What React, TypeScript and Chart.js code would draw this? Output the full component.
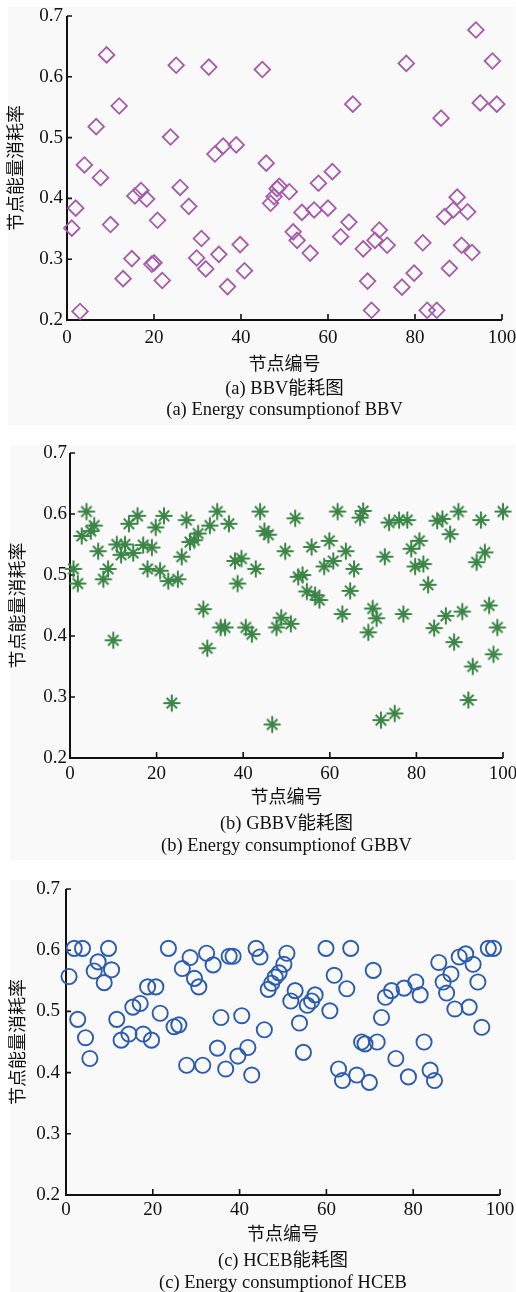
import React, { useEffect, useRef } from 'react';
import { Chart, registerables } from 'chart.js';

Chart.register(...registerables);

// ---------- shared axis data ----------
const xTickValues = [0, 20, 40, 60, 80, 100];
const yTickValues = [0.2, 0.3, 0.4, 0.5, 0.6, 0.7];
const xAxisTitle = '节点编号';
const yAxisTitle = '节点能量消耗率';

// ---------- (a) BBV ----------
const bbvNodes = [
  1.1, 2, 3, 4, 6.7, 7.7, 9.1, 10, 12, 12.9, 14.9, 15.6, 17, 18.3, 19.5, 20, 20.8, 21.9, 23.8, 25.1,
  26, 28, 29.8, 30.9, 31.9, 32.6, 34, 34.9, 35.9, 36.9, 38.9, 39.8, 40.8, 44.9, 45.8, 46.8, 47.6, 48.3, 48.8, 51.1,
  52, 52.9, 54, 55.9, 56.8, 57.8, 60, 61, 62.9, 64.8, 65.7, 68.1, 69.1, 70, 70.8, 71.8, 73.6, 77, 78, 79.8,
  81.8, 82.8, 85, 86, 86.8, 87.9, 88.8, 89.7, 90.7, 92.1, 93.1, 94, 95, 97.8, 98.8,
];
const bbvValues = [
  0.351, 0.384, 0.214, 0.455, 0.518, 0.434, 0.636, 0.357, 0.552, 0.268, 0.301, 0.404, 0.413, 0.399, 0.292, 0.294, 0.364, 0.265, 0.501, 0.619,
  0.418, 0.387, 0.302, 0.334, 0.284, 0.616, 0.473, 0.308, 0.486, 0.255, 0.488, 0.324, 0.281, 0.612, 0.458, 0.392, 0.403, 0.416, 0.420, 0.411,
  0.345, 0.331, 0.377, 0.310, 0.381, 0.425, 0.384, 0.444, 0.337, 0.361, 0.555, 0.317, 0.264, 0.216, 0.331, 0.348, 0.323, 0.254, 0.622, 0.277,
  0.327, 0.216, 0.216, 0.532, 0.370, 0.285, 0.381, 0.402, 0.323, 0.378, 0.311, 0.677, 0.557, 0.626, 0.555,
];

// ---------- (b) GBBV ----------
const gbbvNodes = [
  0.8, 1.8, 2.7, 3.8, 4.8, 5.6, 6.5, 7.7, 8.8, 10, 10.8, 11.8, 12.7, 13.6, 14.6, 15.6, 16.9, 17.9, 18.9, 19.8,
  20.8, 21.7, 22.7, 23.5, 24.9, 25.8, 26.9, 27.7, 28.7, 29.6, 30.8, 31.7, 32.3, 34, 34.8, 35.8, 36.7, 38.1, 38.7, 39.6,
  40.6, 42, 42.9, 43.9, 44.9, 45.8, 46.7, 47.7, 48.8, 49.7, 51, 52, 52.7, 53.7, 54.7, 55.8, 56.6, 57.6, 58.7, 59.9,
  60.8, 61.8, 62.9, 63.7, 64.7, 65.6, 67, 67.7, 68.9, 69.9, 70.8, 71.8, 72.7, 73.7, 75, 76, 77, 77.9, 78.8, 79.7,
  80.7, 81.6, 82.7, 84.1, 84.8, 86, 86.8, 87.8, 88.7, 89.7, 90.6, 92, 93, 93.9, 94.9, 95.8, 96.8, 97.8, 98.7, 100,
];
const gbbvValues = [
  0.510, 0.486, 0.564, 0.604, 0.572, 0.581, 0.539, 0.493, 0.510, 0.393, 0.550, 0.533, 0.550, 0.584, 0.536, 0.597, 0.549, 0.510, 0.545, 0.578,
  0.507, 0.597, 0.490, 0.290, 0.493, 0.530, 0.590, 0.554, 0.557, 0.568, 0.444, 0.380, 0.581, 0.604, 0.414, 0.414, 0.584, 0.523, 0.486, 0.527,
  0.414, 0.403, 0.510, 0.604, 0.572, 0.566, 0.255, 0.414, 0.430, 0.539, 0.420, 0.593, 0.497, 0.500, 0.473, 0.546, 0.467, 0.459, 0.514, 0.556,
  0.523, 0.604, 0.436, 0.539, 0.474, 0.510, 0.594, 0.605, 0.406, 0.445, 0.429, 0.262, 0.530, 0.586, 0.273, 0.590, 0.436, 0.590, 0.543, 0.514,
  0.556, 0.518, 0.484, 0.413, 0.589, 0.592, 0.433, 0.567, 0.390, 0.604, 0.440, 0.295, 0.350, 0.521, 0.590, 0.537, 0.450, 0.370, 0.414, 0.604,
];

// ---------- (c) HCEB ----------
const hcebNodes = [
  0.7, 1.9, 2.7, 3.8, 4.5, 5.5, 6.5, 7.4, 8.8, 9.8, 10.5, 11.7, 12.7, 14.5, 15.4, 17.1, 17.8, 18.8, 19.7, 20.7,
  21.7, 23.6, 24.9, 26, 26.8, 27.8, 28.6, 29.6, 30.6, 31.5, 32.4, 33.9, 34.9, 35.7, 36.8, 37.6, 38.5, 39.6, 40.5, 41.9,
  42.8, 43.8, 44.7, 45.7, 46.6, 47.4, 48.2, 49.1, 50.2, 50.9, 51.8, 52.8, 53.8, 54.7, 55.6, 56.6, 57.4, 59.9, 60.8, 61.8,
  62.8, 63.7, 64.7, 65.6, 67, 68.1, 68.9, 69.9, 70.8, 71.7, 72.7, 73.6, 75, 76, 77.9, 78.9, 80.6, 81.6, 82.5, 83.9,
  84.9, 85.9, 86.9, 87.7, 88.7, 89.6, 90.6, 92.1, 92.9, 93.8, 94.9, 95.8, 97.3, 98.5,
];
const hcebValues = [
  0.557, 0.603, 0.487, 0.603, 0.457, 0.423, 0.566, 0.581, 0.547, 0.603, 0.568, 0.487, 0.453, 0.463, 0.507, 0.513, 0.463, 0.540, 0.453, 0.540,
  0.497, 0.603, 0.475, 0.478, 0.570, 0.412, 0.588, 0.554, 0.540, 0.412, 0.595, 0.576, 0.440, 0.490, 0.406, 0.590, 0.590, 0.427, 0.493, 0.441,
  0.396, 0.603, 0.589, 0.470, 0.536, 0.546, 0.556, 0.563, 0.577, 0.595, 0.517, 0.534, 0.481, 0.433, 0.510, 0.517, 0.527, 0.603, 0.501, 0.559,
  0.406, 0.387, 0.537, 0.603, 0.396, 0.450, 0.447, 0.384, 0.567, 0.450, 0.490, 0.523, 0.534, 0.423, 0.538, 0.393, 0.548, 0.527, 0.450, 0.404,
  0.387, 0.580, 0.548, 0.530, 0.561, 0.504, 0.589, 0.594, 0.507, 0.577, 0.548, 0.474, 0.603, 0.603,
];

const SERIF = "'Liberation Serif', 'Times New Roman', 'Noto Sans CJK SC', serif";

function makeAsterisk(color: string, lw: number): HTMLCanvasElement {
  const c = document.createElement('canvas');
  const s = 22;
  c.width = s;
  c.height = s;
  const g = c.getContext('2d')!;
  g.strokeStyle = color;
  g.lineWidth = lw;
  const m = s / 2;
  g.beginPath();
  g.moveTo(m - 8.5, m);
  g.lineTo(m + 8.5, m);
  g.moveTo(m, m - 8.5);
  g.lineTo(m, m + 8.5);
  const d = 5.2;
  g.moveTo(m - d, m - d);
  g.lineTo(m + d, m + d);
  g.moveTo(m - d, m + d);
  g.lineTo(m + d, m - d);
  g.stroke();
  return c;
}

const inwardAxes = {
  id: 'inwardAxes',
  beforeDatasetsDraw(chart: any) {
    const { ctx, chartArea, scales } = chart;
    const { left, right, top, bottom } = chartArea;
    const x = scales.x;
    const y = scales.y;
    ctx.save();
    ctx.strokeStyle = '#111';
    ctx.lineWidth = 2;
    ctx.beginPath();
    ctx.moveTo(left, top);
    ctx.lineTo(left, bottom);
    ctx.lineTo(right, bottom);
    ctx.stroke();
    ctx.lineWidth = 1.6;
    ctx.beginPath();
    x.ticks.forEach((t: any) => {
      const px = x.getPixelForValue(t.value);
      ctx.moveTo(px, bottom);
      ctx.lineTo(px, bottom - 6);
    });
    y.ticks.forEach((t: any) => {
      const py = y.getPixelForValue(t.value);
      ctx.moveTo(left, py);
      ctx.lineTo(left + 5, py);
    });
    ctx.stroke();
    ctx.restore();
  },
};

type PanelProps = {
  nodes: number[];
  values: number[];
  marker: 'diamond' | 'asterisk' | 'circle';
  color: string;
  top: number;
  height: number;
  yAxisWidth: number;
  padRight: number;
  xTitlePadBottom: number;
  yTitlePadTop: number;
  yTickPad: number;
  xTickPad: number;
};

function ScatterPanel(p: PanelProps) {
  const ref = useRef<HTMLCanvasElement | null>(null);
  useEffect(() => {
    if (!ref.current) return;
    let pointStyle: any = 'circle';
    let radius = 7.6;
    let bw = 1.9;
    if (p.marker === 'diamond') {
      pointStyle = 'rectRot';
      radius = 7.8;
      bw = 1.8;
    } else if (p.marker === 'asterisk') {
      pointStyle = makeAsterisk(p.color, 2);
      radius = 9;
    }
    const chart = new Chart(ref.current, {
      type: 'scatter',
      data: {
        datasets: [
          {
            data: p.nodes.map((n, i) => ({ x: n, y: p.values[i] })),
            pointStyle,
            pointRadius: radius,
            borderColor: p.color,
            borderWidth: bw,
            backgroundColor: 'rgba(0,0,0,0)',
            clip: false as any,
          },
        ],
      },
      options: {
        animation: false,
        responsive: false,
        events: [],
        layout: { padding: { top: 16, right: p.padRight, left: 0, bottom: 0 } },
        plugins: { legend: { display: false }, tooltip: { enabled: false }, title: { display: false } },
        scales: {
          x: {
            type: 'linear',
            min: 0,
            max: 100,
            afterBuildTicks: (s: any) => {
              s.ticks = xTickValues.map((v) => ({ value: v }));
            },
            afterFit: (s: any) => {
              s.height = 60;
              s.paddingLeft = 0;
              s.paddingRight = 0;
            },
            ticks: {
              color: '#111',
              font: { family: SERIF, size: 19 },
              padding: p.xTickPad,
              maxRotation: 0,
              autoSkip: false,
              callback: (v: any) => String(v),
            },
            grid: { display: false, drawTicks: false },
            border: { display: false },
            title: {
              display: true,
              text: xAxisTitle,
              color: '#111',
              font: { family: SERIF, size: 18 },
              padding: { top: 0, bottom: p.xTitlePadBottom },
            },
          },
          y: {
            type: 'linear',
            min: 0.2,
            max: 0.7,
            afterBuildTicks: (s: any) => {
              s.ticks = yTickValues.map((v) => ({ value: v }));
            },
            afterFit: (s: any) => {
              s.width = p.yAxisWidth;
              s.paddingTop = 0;
              s.paddingBottom = 0;
            },
            ticks: {
              color: '#111',
              font: { family: SERIF, size: 19 },
              padding: p.yTickPad,
              autoSkip: false,
              callback: (v: any) => Number(v).toFixed(1),
            },
            grid: { display: false, drawTicks: false },
            border: { display: false },
            title: {
              display: true,
              text: yAxisTitle,
              color: '#111',
              font: { family: SERIF, size: 18 },
              padding: { top: p.yTitlePadTop, bottom: 0 },
            },
          },
        },
      },
      plugins: [inwardAxes],
    });
    return () => chart.destroy();
  }, []);
  return (
    <canvas
      ref={ref}
      width={516}
      height={p.height}
      style={{ position: 'absolute', left: 0, top: p.top, width: 516, height: p.height }}
    />
  );
}

function Caption({ text, centerY, left, width }: { text: string; centerY: number; left: number; width: number }) {
  return (
    <div
      style={{
        position: 'absolute',
        left,
        width,
        top: centerY - 12,
        height: 24,
        lineHeight: '24px',
        textAlign: 'center',
        fontFamily: SERIF,
        fontSize: 18.5,
        color: '#111',
        whiteSpace: 'nowrap',
      }}
    >
      {text}
    </div>
  );
}

export default function App() {
  const boxStyle = (top: number, height: number, left: number): React.CSSProperties => ({
    position: 'absolute',
    left,
    top,
    width: 516 - left - 1,
    height,
    background: '#f9f9f9',
  });
  return (
    <div style={{ position: 'absolute', left: 0, top: 0, width: 516, height: 1292, background: '#fff', overflow: 'hidden' }}>
      <div style={boxStyle(7, 418, 8)} />
      <div style={boxStyle(445, 415, 10)} />
      <div style={boxStyle(880, 412, 10)} />

      <ScatterPanel
        nodes={bbvNodes}
        values={bbvValues}
        marker="diamond"
        color="#a65baa"
        top={0}
        height={380}
        yAxisWidth={67}
        padRight={14}
        xTitlePadBottom={4}
        yTitlePadTop={6}
        yTickPad={4}
        xTickPad={7}
      />
      <Caption text="(a) BBV能耗图" centerY={388} left={67} width={435} />
      <Caption text="(a) Energy consumptionof BBV" centerY={409} left={67} width={435} />

      <ScatterPanel
        nodes={gbbvNodes}
        values={gbbvValues}
        marker="asterisk"
        color="#3b8546"
        top={437}
        height={381}
        yAxisWidth={70}
        padRight={13}
        xTitlePadBottom={9}
        yTitlePadTop={8.5}
        yTickPad={3}
        xTickPad={5}
      />
      <Caption text="(b) GBBV能耗图" centerY={823} left={70} width={433} />
      <Caption text="(b) Energy consumptionof GBBV" centerY={845} left={70} width={433} />

      <ScatterPanel
        nodes={hcebNodes}
        values={hcebValues}
        marker="circle"
        color="#2b5cb0"
        top={873}
        height={382}
        yAxisWidth={66}
        padRight={16}
        xTitlePadBottom={9}
        yTitlePadTop={8.5}
        yTickPad={6}
        xTickPad={4}
      />
      <Caption text="(c) HCEB能耗图" centerY={1260} left={66} width={434} />
      <Caption text="(c) Energy consumptionof HCEB" centerY={1282} left={66} width={434} />
    </div>
  );
}
